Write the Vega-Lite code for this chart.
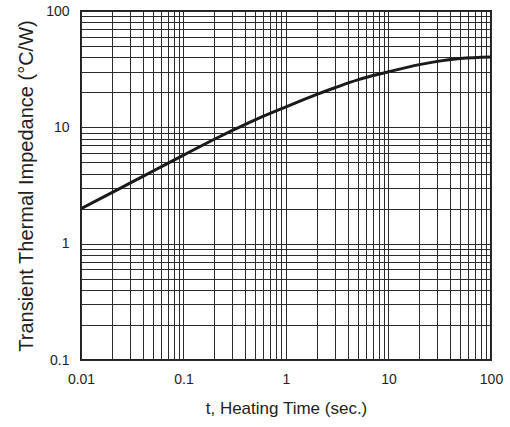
{
  "$schema": "https://vega.github.io/schema/vega-lite/v6.json",
  "width": 410,
  "height": 349,
  "autosize": {"type": "none"},
  "padding": {"left": 81, "top": 11, "right": 19, "bottom": 67},
  "background": "white",
  "config": {
    "view": {"stroke": "#231f20", "strokeWidth": 2},
    "font": "Liberation Sans"
  },
  "data": {
    "values": [
      {"t": 0.01, "z": 2.0},
      {"t": 0.02, "z": 2.75},
      {"t": 0.03, "z": 3.31},
      {"t": 0.05, "z": 4.19},
      {"t": 0.1, "z": 5.77},
      {"t": 0.2, "z": 7.9},
      {"t": 0.3, "z": 9.4},
      {"t": 0.5, "z": 11.6},
      {"t": 1, "z": 15.0},
      {"t": 2, "z": 19.2},
      {"t": 3, "z": 21.9},
      {"t": 5, "z": 25.6},
      {"t": 10, "z": 30},
      {"t": 20, "z": 34.6},
      {"t": 30, "z": 36.9},
      {"t": 50, "z": 39},
      {"t": 100, "z": 40.2}
    ]
  },
  "mark": {"type": "line", "color": "#1a1a1a", "strokeWidth": 3, "interpolate": "monotone", "clip": true},
  "encoding": {
    "x": {
      "field": "t",
      "type": "quantitative",
      "scale": {"type": "log", "domain": [0.01, 100], "nice": false},
      "axis": {
        "title": "t, Heating Time (sec.)",
        "titleFontSize": 17,
        "titleFontWeight": "normal",
        "titleColor": "#231f20",
        "titlePadding": 14,
        "values": [0.01,0.02,0.03,0.04,0.05,0.06,0.07,0.08,0.09,0.1,0.2,0.3,0.4,0.5,0.6,0.7,0.8,0.9,1,2,3,4,5,6,7,8,9,10,20,30,40,50,60,70,80,90,100],
        "labelExpr": "indexof([0.01,0.1,1,10,100], datum.value) >= 0 ? '' + datum.value : ''",
        "labelFontSize": 14,
        "labelColor": "#231f20",
        "labelPadding": 12,
        "labelFlush": false,
        "labelOverlap": false,
        "ticks": false,
        "domain": false,
        "grid": true,
        "gridColor": "#2b2b2b",
        "gridWidth": 1,
        "gridOpacity": 1
      }
    },
    "y": {
      "field": "z",
      "type": "quantitative",
      "scale": {"type": "log", "domain": [0.1, 100], "nice": false},
      "axis": {
        "title": "Transient Thermal Impedance (°C/W)",
        "titleFontSize": 20,
        "titleFontWeight": "normal",
        "titleColor": "#231f20",
        "titlePadding": 9,
        "values": [0.1,0.2,0.3,0.4,0.5,0.6,0.7,0.8,0.9,1,2,3,4,5,6,7,8,9,10,20,30,40,50,60,70,80,90,100],
        "labelExpr": "indexof([0.1,1,10,100], datum.value) >= 0 ? '' + datum.value : ''",
        "labelFontSize": 14,
        "labelColor": "#231f20",
        "labelPadding": 12,
        "labelFlush": false,
        "labelOverlap": false,
        "ticks": false,
        "domain": false,
        "grid": true,
        "gridColor": "#2b2b2b",
        "gridWidth": 1,
        "gridOpacity": 1
      }
    }
  }
}
